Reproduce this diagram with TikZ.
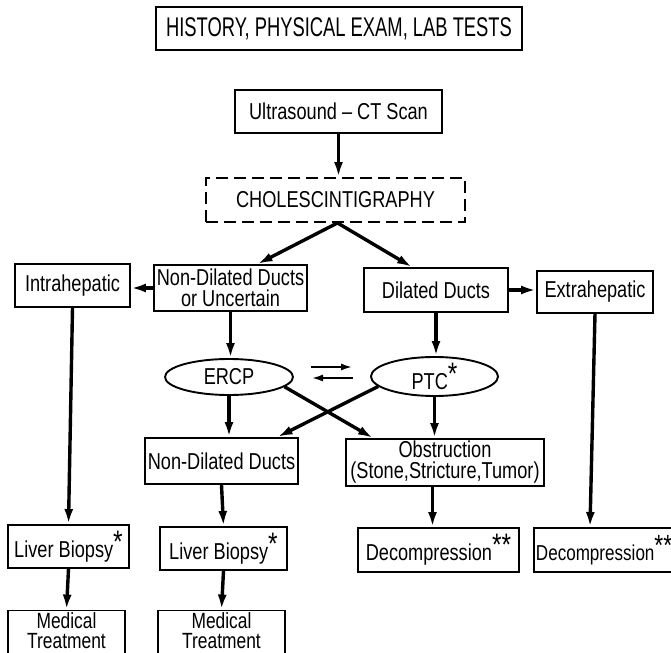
\documentclass[tikz,border=0pt]{standalone}
\usepackage{fontspec}
\setmainfont{Liberation Sans}[FakeStretch=0.79]
\newfontfamily\headfont{Liberation Sans}[FakeStretch=0.68]
\usetikzlibrary{arrows.meta,shapes.geometric}

\tikzset{
  box/.style={draw, line width=0.95pt, inner xsep=1pt, inner ysep=1pt,
    align=center, font=\fontsize{11.5}{10.5}\selectfont},
  dashbox/.style={box, dash pattern=on 6pt off 3pt},
  oval/.style={ellipse, draw, line width=0.95pt, inner sep=0pt,
    font=\fontsize{11.5}{10.5}\selectfont},
  medbox/.style={box, font=\fontsize{11}{10}\selectfont},
  flow/.style={line width=1.7pt, -{Latex[length=7.5pt,width=4.5pt]}},
  swap/.style={line width=1.3pt, -{Latex[length=6pt,width=3.5pt]}},
}
\newcommand{\astx}[1]{\raisebox{2.5pt}{\scalebox{1.35}{#1}}}

\begin{document}
\begin{tikzpicture}[x=0.5pt, y=-0.5pt]
  \useasboundingbox (0,0) rectangle (671,653);
  \clip (0,0) rectangle (671,653);
  % Top
  \node[box, minimum width=183pt, minimum height=21.5pt, font=\headfont\fontsize{13.5}{14}\selectfont]
    (hist) at (339,28.5) {HISTORY, PHYSICAL EXAM, LAB TESTS};
  \node[box, minimum width=103.5pt, minimum height=21.5pt] (us) at (338.5,111.5) {Ultrasound -- CT Scan};
  \node[dashbox, minimum width=129.5pt, minimum height=22pt] (chol) at (335.5,200) {CHOLESCINTIGRAPHY};
  % Ducts
  \node[box, minimum width=76.5pt, minimum height=23pt] (ndu) at (230.5,288) {Non-Dilated Ducts\\or Uncertain};
  \node[box, minimum width=72pt, minimum height=22pt] (dil) at (436,290) {Dilated Ducts};
  \node[box, minimum width=57.5pt, minimum height=21.5pt] (intra) at (72.5,285.5) {Intrahepatic};
  \node[box, minimum width=58pt, minimum height=21pt] (extra) at (595,292) {Extrahepatic};
  % Imaging
  \node[oval, minimum width=64pt, minimum height=18pt] (ercp) at (229,377) {ERCP};
  \node[oval, minimum width=63.5pt, minimum height=19.5pt] (ptc) at (434.5,376.5) {PTC\astx{*}};
  \node[box, minimum width=76.5pt, minimum height=23pt] (ndd) at (221.5,461) {Non-Dilated Ducts};
  \node[box, minimum width=99pt, minimum height=23.5pt] (obs) at (445,462.5) {Obstruction\\(Stone,Stricture,Tumor)};
  % Outcomes
  \node[box, minimum width=60.5pt, minimum height=21.5pt] (lb1) at (68.5,546.5) {Liver Biopsy\astx{*}};
  \node[box, minimum width=63.5pt, minimum height=21.5pt] (lb2) at (223.5,548.5) {Liver Biopsy\astx{*}};
  \node[box, minimum width=80.5pt, minimum height=22pt] (dec1) at (438.5,550) {Decompression\astx{**}};
  \node[box, anchor=west, minimum height=22pt, font=\fontsize{10.8}{10}\selectfont]
    (dec2) at (533,550) {Decompression\astx{**}};
  \node[medbox, minimum width=58.5pt, minimum height=25pt] (med1) at (66.5,637)
    {Medical\\Treatment\rule[-6.5pt]{0pt}{0pt}};
  \node[medbox, minimum width=63.5pt, minimum height=25pt] (med2) at (221.5,637)
    {Medical\\Treatment\rule[-6.5pt]{0pt}{0pt}};
  % Connectors
  \draw[flow] (us.south) -- (us.south |- chol.north);
  \draw[flow] ([xshift=1pt]chol.south) -- ([xshift=13.5pt]ndu.north);
  \draw[flow] ([xshift=1pt]chol.south) -- ([xshift=-12pt]dil.north);
  \draw[flow] (ndu.west) -- (ndu.west -| intra.east);
  \draw[flow] (dil.east) -- (dil.east -| extra.west);
  \draw[flow] (ndu.south) -- (ndu.south |- ercp.north);
  \draw[flow] (dil.south) -- (dil.south |- ptc.north);
  \draw[flow] (ercp.south) -- (ercp.south |- ndd.north);
  \draw[flow] (ptc.south) -- (ptc.south |- obs.north);
  \draw[flow] (ercp.-10) -- ([xshift=-36pt]obs.north);
  \draw[flow] (ptc.190) -- ([xshift=28pt]ndd.north);
  % Exchange between ERCP and PTC
  \coordinate (swapA) at (311,367);
  \coordinate (swapB) at (353,367);
  \coordinate (swapC) at (353,378);
  \coordinate (swapD) at (311,378);
  \draw[swap] (swapA) -- (swapB);
  \draw[swap] (swapC) -- (swapD);
  % Down to outcomes
  \draw[flow] (intra.south) -- (lb1.north);
  \draw[flow] (lb1.south) -- (med1.north);
  \draw[flow] (ndd.south) -- (lb2.north);
  \draw[flow] (lb2.south) -- (med2.north);
  \draw[flow] ([xshift=-3pt]dec1.north |- obs.south) -- ([xshift=-3pt]dec1.north);
  \draw[flow] (extra.south) -- ([xshift=-2.5pt]extra.south |- dec2.north);
\end{tikzpicture}
\end{document}
